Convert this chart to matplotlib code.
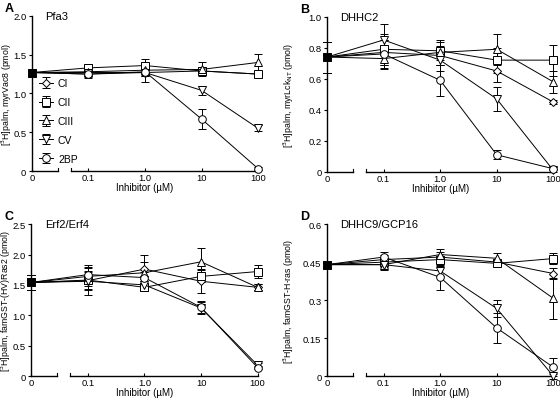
import matplotlib.pyplot as plt
import matplotlib.transforms as mtransforms

plt.rcParams['font.family'] = ['Liberation Sans', 'DejaVu Sans']

# x categories (broken axis: 0, then log-spaced concentrations)
conc_labels = ['0', '0.1', '1.0', '10', '100']
series_names = ['CI', 'CII', 'CIII', 'CV', '2BP']
markers = ['D', 's', '^', 'v', 'o']

# Panel A - Pfa3
a_vals = {
    'CI':   [1.27, 1.25, 1.27, 1.29, 1.25],
    'CII':  [1.27, 1.33, 1.36, 1.29, 1.25],
    'CIII': [1.27, 1.28, 1.30, 1.31, 1.40],
    'CV':   [1.27, 1.27, 1.27, 1.04, 0.55],
    '2BP':  [1.27, 1.25, 1.28, 0.67, 0.03],
}
a_err = {
    'CI':   [0.03, 0.05, 0.04, 0.05, 0.02],
    'CII':  [0.03, 0.05, 0.08, 0.04, 0.02],
    'CIII': [0.03, 0.04, 0.06, 0.09, 0.11],
    'CV':   [0.03, 0.04, 0.12, 0.06, 0.04],
    '2BP':  [0.03, 0.04, 0.06, 0.13, 0.02],
}

# Panel B - DHHC2
b_vals = {
    'CI':   [0.74, 0.77, 0.75, 0.65, 0.45],
    'CII':  [0.74, 0.79, 0.78, 0.72, 0.72],
    'CIII': [0.74, 0.73, 0.77, 0.79, 0.58],
    'CV':   [0.74, 0.85, 0.72, 0.47, 0.01],
    '2BP':  [0.74, 0.76, 0.59, 0.11, 0.02],
}
b_err = {
    'CI':   [0.10, 0.08, 0.06, 0.07, 0.01],
    'CII':  [0.10, 0.10, 0.06, 0.08, 0.10],
    'CIII': [0.10, 0.07, 0.08, 0.10, 0.07],
    'CV':   [0.10, 0.10, 0.07, 0.08, 0.01],
    '2BP':  [0.10, 0.09, 0.10, 0.03, 0.01],
}

# Panel C - Erf2/Erf4
c_vals = {
    'CI':   [1.54, 1.57, 1.76, 1.56, 1.46],
    'CII':  [1.54, 1.58, 1.46, 1.64, 1.72],
    'CIII': [1.54, 1.64, 1.70, 1.88, 1.46],
    'CV':   [1.54, 1.56, 1.50, 1.12, 0.18],
    '2BP':  [1.54, 1.67, 1.62, 1.13, 0.14],
}
c_err = {
    'CI':   [0.12, 0.15, 0.12, 0.20, 0.05],
    'CII':  [0.12, 0.15, 0.05, 0.10, 0.10],
    'CIII': [0.12, 0.15, 0.30, 0.22, 0.05],
    'CV':   [0.12, 0.22, 0.10, 0.10, 0.03],
    '2BP':  [0.12, 0.15, 0.10, 0.10, 0.03],
}

# Panel D - DHHC9/GCP16
d_vals = {
    'CI':   [0.44, 0.46, 0.47, 0.45, 0.405],
    'CII':  [0.44, 0.45, 0.46, 0.445, 0.464],
    'CIII': [0.44, 0.44, 0.48, 0.465, 0.307],
    'CV':   [0.44, 0.44, 0.415, 0.267, 0.0],
    '2BP':  [0.44, 0.47, 0.39, 0.19, 0.035],
}
d_err = {
    'CI':   [0.01, 0.02, 0.02, 0.01, 0.02],
    'CII':  [0.01, 0.01, 0.01, 0.01, 0.02],
    'CIII': [0.01, 0.02, 0.02, 0.02, 0.08],
    'CV':   [0.01, 0.01, 0.02, 0.035, 0.01],
    '2BP':  [0.01, 0.02, 0.05, 0.06, 0.035],
}

panels = [
    ('A', 'Pfa3', a_vals, a_err, 2.0, [0, 0.5, 1.0, 1.5, 2.0], ['0', '0.5', '1.0', '1.5', '2.0'],
     '[$^3$H]palm, myrVac8 (pmol)', [0.057, 0.572, 0.404, 0.386], -0.08),
    ('B', 'DHHC2', b_vals, b_err, 1.0, [0, 0.2, 0.4, 0.6, 0.8, 1.0], ['0', '0.2', '0.4', '0.6', '0.8', '1.0'],
     '[$^3$H]palm, myrLck$_{\\rm NT}$ (pmol)', [0.584, 0.570, 0.404, 0.386], -0.135),
    ('C', 'Erf2/Erf4', c_vals, c_err, 2.5, [0, 0.5, 1.0, 1.5, 2.0, 2.5], ['0', '0.5', '1.0', '1.5', '2.0', '2.5'],
     '[$^3$H]palm, famGST-(HV)Ras2 (pmol)', [0.056, 0.062, 0.404, 0.378], -0.08),
    ('D', 'DHHC9/GCP16', d_vals, d_err, 0.6, [0, 0.15, 0.3, 0.45, 0.6], ['0', '0.15', '0.3', '0.45', '0.6'],
     '[$^3$H]palm, famGST-H-ras (pmol)', [0.584, 0.062, 0.404, 0.378], -0.135),
]

fig = plt.figure(figsize=(5.6, 4.02), dpi=100)
x = list(range(len(conc_labels)))

for letter, title, vals, errs, ymax, yticks, yticklabels, ylabel, rect, ylab_x in panels:
    ax = fig.add_axes(rect)
    for name, m in zip(series_names, markers):
        ms = 4.2 if m == 'D' else 5.5
        ax.errorbar(x, vals[name], yerr=errs[name], color='black', lw=0.7,
                    elinewidth=0.7, capsize=3.2, capthick=0.7, marker=m,
                    markersize=ms, markerfacecolor='white', markeredgecolor='black',
                    markeredgewidth=0.7, clip_on=False, label=name)
    # shared control point
    ax.plot(x[0], vals['CI'][0], marker='s', markersize=5, color='black',
            clip_on=False, zorder=5)

    ax.set_xlim(0, 4)
    ax.set_ylim(0, ymax)
    ax.set_xticks(x)
    ax.set_xticklabels(conc_labels)
    ax.set_yticks(yticks)
    ax.set_yticklabels(yticklabels)
    ax.tick_params(axis='both', labelsize=6.8, width=0.8, length=2.5)
    ax.tick_params(axis='x', direction='in', pad=1.5)
    ax.tick_params(axis='y', direction='out', pad=1.5)
    for s in ['top', 'right', 'bottom']:
        ax.spines[s].set_visible(False)
    ax.spines['left'].set_linewidth(1.0)

    # broken x axis
    trans = mtransforms.blended_transform_factory(ax.transData, ax.transAxes)
    ax.plot([0, 0.46], [0, 0], color='black', lw=1.0, transform=trans, clip_on=False)
    ax.plot([0.69, 4], [0, 0], color='black', lw=1.0, transform=trans, clip_on=False)
    for bx in [0.46, 0.69]:
        ax.plot([bx, bx], [0, 0.018], color='black', lw=0.8, transform=trans, clip_on=False)

    ax.set_xlabel('Inhibitor (\u00b5M)', fontsize=7, labelpad=0)
    ax.set_ylabel(ylabel, fontsize=6.3)
    ax.yaxis.set_label_coords(ylab_x, 0.5)
    ax.text(0.06, 1.0, title, transform=ax.transAxes, fontsize=8, va='center', ha='left')
    fig.text(rect[0] - 0.048, rect[1] + rect[3] + 0.02, letter, fontsize=9,
             fontweight='bold', va='center', ha='left')

    if letter == 'A':
        ax.legend(loc='lower left', bbox_to_anchor=(0.0, 0.0), frameon=False,
                  fontsize=7.5, handlelength=1.3, handletextpad=0.5,
                  labelspacing=0.85, borderaxespad=0.3)

fig.savefig('out.png', dpi=100)
